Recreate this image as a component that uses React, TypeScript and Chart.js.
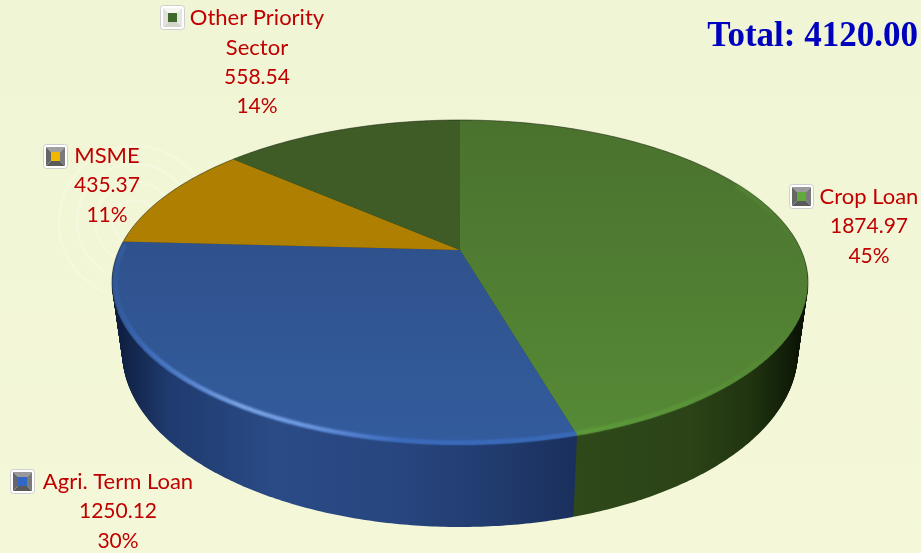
import React, { useEffect, useRef } from "react";
import { Chart, registerables } from "chart.js";

Chart.register(...registerables);

const categories = ["Crop Loan", "Agri. Term Loan", "MSME", "Other Priority Sector"];
const amounts = [1874.97, 1250.12, 435.37, 558.54];
const shares = ["45%", "30%", "11%", "14%"];
const totalLabel = "Total: 4120.00";

const sliceColors = ["#4f7c30", "#30548f", "#ae7f00", "#3f5c26"];
const iconCores = ["#62a83c", "#2f66c8", "#f2b800", "#3f6a2c"];
const iconBevels = [
  ["#9a9a9a", "#7a7a7a", "#5a5a5a", "#666666"],
  ["#9a9a9a", "#7a7a7a", "#5a5a5a", "#666666"],
  ["#a0a0a0", "#7a7a7a", "#5a5a5a", "#666666"],
  ["#f6f6f2", "#e6e8e0", "#d4d6ce", "#e0e2da"],
];

const WIDTH = 921;
const HEIGHT = 553;
const FONT = "Lato, 'Noto Sans', sans-serif";

// Perspective mapping of the disc: rim points are pushed through a 1/(1+kv) divide.
const K = 0.2;
const TOP = { cx: 460, cy: 250, rx: 341, ry: 156 };
const BASE = { cx: 460, cy: 317, rx: 331, ry: 168 };

const mix = (t: number, a: number, b: number) => a + (b - a) * t;

function project(angle: number, r: number, t: number) {
  const u = Math.cos(angle) * r;
  const v = -Math.sin(angle) * r;
  const d = 1 + K * v;
  const cx = mix(t, BASE.cx, TOP.cx);
  const cy = mix(t, BASE.cy, TOP.cy);
  const rx = mix(t, BASE.rx, TOP.rx);
  const ry = mix(t, BASE.ry, TOP.ry);
  return { x: cx + (rx * u) / d, y: cy - (ry * v) / d };
}

function traceRim(ctx: CanvasRenderingContext2D, a0: number, a1: number, r: number, t: number, move: boolean) {
  const steps = Math.max(4, Math.ceil((a1 - a0) / 0.01));
  for (let i = 0; i <= steps; i++) {
    const p = project(a0 + ((a1 - a0) * i) / steps, r, t);
    if (i === 0 && move) ctx.moveTo(p.x, p.y);
    else ctx.lineTo(p.x, p.y);
  }
}

function traceWedge(ctx: CanvasRenderingContext2D, a0: number, a1: number, t: number) {
  const c = project(0, 0, t);
  ctx.beginPath();
  ctx.moveTo(c.x, c.y);
  traceRim(ctx, a0, a1, 1, t, false);
  ctx.closePath();
}

function ramp(ctx: CanvasRenderingContext2D, x0: number, y0: number, x1: number, y1: number, stops: [number, string][]) {
  const g = ctx.createLinearGradient(x0, y0, x1, y1);
  stops.forEach(([o, c]) => g.addColorStop(o, c));
  return g;
}

const tiltedDisc = {
  id: "tiltedDisc",
  beforeDatasetsDraw(chart: Chart) {
    const ctx = chart.ctx;
    const arcs = chart.getDatasetMeta(0).data as any[];

    const sideFills = [
      ramp(ctx, 570, 0, 812, 0, [
        [0, "#2f491a"], [0.5, "#2b4317"], [0.75, "#203410"], [0.9, "#111d08"], [1, "#050a02"],
      ]),
      ramp(ctx, 112, 0, 576, 0, [
        [0, "#0c1a3a"], [0.05, "#14284f"], [0.12, "#1f3a6e"], [0.35, "#2a4b86"], [0.6, "#284680"], [0.85, "#203a6c"], [1, "#1a2f5c"],
      ]),
      "#5a4200",
      "#20300f",
    ];

    // Side wall: stacked copies of the slices from the base up to the top face.
    const layers = 90;
    for (let l = 0; l < layers; l++) {
      const t = l / layers;
      arcs.forEach((arc, i) => {
        ctx.fillStyle = sideFills[i];
        traceWedge(ctx, arc.startAngle, arc.endAngle, t);
        ctx.fill();
      });
    }

    const topFills = [
      ramp(ctx, 0, 120, 0, 440, [[0, "#4a722e"], [1, "#568a36"]]),
      ramp(ctx, 0, 245, 0, 445, [[0, "#2f528d"], [1, "#335c9d"]]),
      sliceColors[2],
      sliceColors[3],
    ];
    arcs.forEach((arc, i) => {
      ctx.fillStyle = topFills[i];
      traceWedge(ctx, arc.startAngle, arc.endAngle, 1);
      ctx.fill();
    });

    // Thin shaded outline on the far edge.
    ctx.save();
    ctx.strokeStyle = "rgba(25,35,15,0.55)";
    ctx.lineWidth = 1;
    ctx.beginPath();
    traceRim(ctx, arcs[0].startAngle - Math.PI * 0.62, arcs[0].startAngle + Math.PI * 0.62, 1, 1, true);
    ctx.stroke();
    ctx.restore();

    // Bevel highlight on the near edge of the two front slices.
    ctx.save();
    ctx.filter = "blur(1.2px)";
    ctx.lineWidth = 4;
    ctx.lineCap = "butt";
    ctx.strokeStyle = ramp(ctx, 570, 0, 800, 0, [
      [0, "#5e9d3a"], [0.5, "rgba(92,152,58,0.8)"], [1, "rgba(92,152,58,0)"],
    ]);
    ctx.beginPath();
    traceRim(ctx, arcs[0].startAngle + 1.1, arcs[0].endAngle, 0.99, 1, true);
    ctx.stroke();
    ctx.strokeStyle = ramp(ctx, 112, 0, 576, 0, [
      [0, "rgba(58,104,180,0.2)"], [0.08, "#3f6fbe"], [0.28, "#7fa8ea"], [0.42, "#6f9ae4"], [0.62, "#3c6cc0"], [1, "#3a6abb"],
    ]);
    ctx.beginPath();
    traceRim(ctx, arcs[1].startAngle, arcs[1].endAngle - 0.02, 0.99, 1, true);
    ctx.stroke();
    ctx.restore();

    return false;
  },
};

// Legend swatch: white rounded tile, four bevel facets, coloured core.
function drawIcon(ctx: CanvasRenderingContext2D, x: number, y: number, bevel: string[], core: string) {
  const size = 24;
  ctx.save();
  ctx.fillStyle = "#ffffff";
  ctx.strokeStyle = "#cfcfcf";
  ctx.lineWidth = 1;
  ctx.beginPath();
  ctx.roundRect(x + 0.5, y + 0.5, size, size, 3);
  ctx.fill();
  ctx.stroke();
  const o0 = 3;
  const o1 = size - 2;
  const i0 = 8;
  const i1 = size - 7;
  const facets = [
    [[o0, o0], [o1, o0], [i1, i0], [i0, i0]],
    [[o1, o0], [o1, o1], [i1, i1], [i1, i0]],
    [[o1, o1], [o0, o1], [i0, i1], [i1, i1]],
    [[o0, o1], [o0, o0], [i0, i0], [i0, i1]],
  ];
  facets.forEach((pts, f) => {
    ctx.fillStyle = bevel[f];
    ctx.beginPath();
    pts.forEach(([px, py], n) => (n ? ctx.lineTo(x + px, y + py) : ctx.moveTo(x + px, y + py)));
    ctx.closePath();
    ctx.fill();
  });
  ctx.fillStyle = core;
  ctx.fillRect(x + i0, y + i0, i1 - i0, i1 - i0);
  ctx.restore();
}

// Where each caption block sits: icon corner and text column.
const captionSpots = [
  { iconX: 789, iconY: 184, centerX: 869, y: 197 },
  { iconX: 10, iconY: 469, centerX: 118, y: 482 },
  { iconX: 43, iconY: 144, centerX: 107, y: 156 },
  { iconX: 160, iconY: 5, centerX: 257, y: 18 },
];

const captions = {
  id: "captions",
  beforeDraw(chart: Chart) {
    const ctx = chart.ctx;
    ctx.save();
    ctx.fillStyle = ramp(ctx, 0, 0, 0, HEIGHT, [[0, "#f0f5d6"], [1, "#f4f8d9"]]);
    ctx.fillRect(0, 0, WIDTH, HEIGHT);
    // Faint concentric emblem in the page background.
    ctx.strokeStyle = "rgba(255,255,240,0.22)";
    ctx.lineWidth = 3;
    [22, 40, 58, 76].forEach((r) => {
      ctx.beginPath();
      ctx.arc(135, 222, r, 0, Math.PI * 2);
      ctx.stroke();
    });
    ctx.restore();
  },
  afterDraw(chart: Chart) {
    const ctx = chart.ctx;
    const labels = chart.data.labels as string[];
    const values = chart.data.datasets[0].data as number[];
    ctx.save();
    ctx.textBaseline = "middle";
    ctx.textAlign = "center";
    ctx.fillStyle = "#c00000";
    labels.forEach((label, i) => {
      const spot = captionSpots[i];
      drawIcon(ctx, spot.iconX, spot.iconY, iconBevels[i], iconCores[i]);
      const names = label === "Other Priority Sector" ? ["Other Priority", "Sector"] : [label];
      ctx.font = `22px ${FONT}`;
      names.forEach((line, n) => ctx.fillText(line, spot.centerX, spot.y + n * 29.5));
      ctx.font = `21px ${FONT}`;
      [values[i].toFixed(2), shares[i]].forEach((line, n) =>
        ctx.fillText(line, spot.centerX, spot.y + (names.length + n) * 29.5),
      );
    });
    ctx.font = "bold 35px 'Liberation Serif', serif";
    ctx.textAlign = "right";
    ctx.fillStyle = "#0000bf";
    ctx.fillText(totalLabel, 918, 37);
    ctx.restore();
  },
};

export default function App() {
  const ref = useRef<HTMLCanvasElement>(null);
  useEffect(() => {
    if (!ref.current) return;
    const chart = new Chart(ref.current, {
      type: "pie",
      data: {
        labels: categories,
        datasets: [{ data: amounts, backgroundColor: sliceColors, borderWidth: 0 }],
      },
      options: {
        responsive: false,
        animation: false,
        plugins: { legend: { display: false }, tooltip: { enabled: false } },
      },
      plugins: [tiltedDisc, captions],
    } as any);
    return () => chart.destroy();
  }, []);
  return (
    <canvas
      ref={ref}
      width={WIDTH}
      height={HEIGHT}
      style={{ position: "absolute", left: 0, top: 0, display: "block" }}
    />
  );
}
